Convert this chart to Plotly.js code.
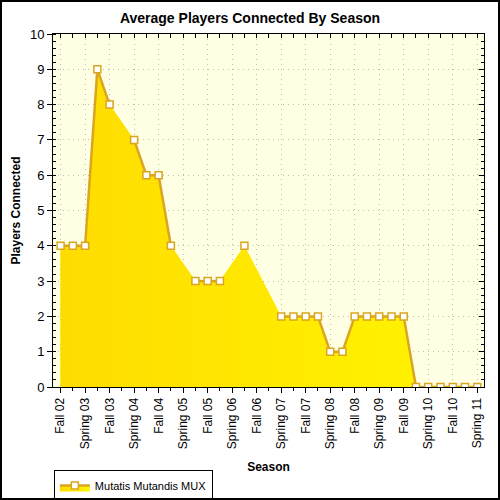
<!DOCTYPE html>
<html>
<head>
<meta charset="utf-8">
<script src="https://cdn.plot.ly/plotly-3.0.1.min.js"></script>
<style>
  html, body { margin: 0; padding: 0; background: #ffffff; }
  #chart { width: 500px; height: 500px; box-sizing: border-box; border: 2px solid #000; }
</style>
</head>
<body>
<div id="chart"></div>
<script>
// Season labels shown on the x axis (every other quarterly step)
const tickLabels = ["Fall 02","Spring 03","Fall 03","Spring 04","Fall 04","Spring 05","Fall 05","Spring 06","Fall 06","Spring 07","Fall 07","Spring 08","Fall 08","Spring 09","Fall 09","Spring 10","Fall 10","Spring 11"];
// Average players per quarterly step (null = no data for that step)
const players = [4,4,4,9,8,null,7,6,6,4,null,3,3,3,null,4,null,null,2,2,2,2,1,1,2,2,2,2,2,0,0,0,0,0,0];
const seriesName = "Mutatis Mutandis MUX";

const steps = players.map((_, i) => i);
const areaX = steps.filter(i => players[i] !== null);
const areaY = areaX.map(i => players[i]);
const tickVals = tickLabels.map((_, i) => i * 2);
const minorVals = steps.filter(i => i % 2 === 1);

const grad = {
  type: 'horizontal',
  start: 0,
  stop: steps.length - 1,
  colorscale: [[0, '#FFDC00'], [1, '#FFF500']]
};
const lineColor = '#DAA520';
const FONT = 'Liberation Sans, Arial, sans-serif';

const traces = [
  {
    x: areaX, y: areaY, type: 'scatter', mode: 'lines',
    line: { width: 0, color: lineColor },
    fill: 'tozeroy', fillgradient: grad,
    showlegend: false, hoverinfo: 'skip'
  },
  {
    x: steps, y: players, type: 'scatter', mode: 'lines+markers',
    name: seriesName, connectgaps: false,
    line: { width: 2.5, color: lineColor },
    marker: { symbol: 'square', size: 7, color: '#ffffff', line: { color: lineColor, width: 1.5 } },
    fill: 'tozeroy', fillgradient: grad,
    hoverinfo: 'skip'
  },
  {
    x: steps, y: players, type: 'scatter', mode: 'none',
    xaxis: 'x2', yaxis: 'y2', showlegend: false, hoverinfo: 'skip'
  }
];

const xRange = [-0.62, 34.55];
const gridStyle = { showgrid: true, gridcolor: '#bdbdbd', griddash: '1px,4px', gridwidth: 1 };

const layout = {
  width: 496, height: 496,
  margin: { l: 51, r: 14, t: 32, b: 111, autoexpand: false },
  paper_bgcolor: '#ffffff',
  plot_bgcolor: '#FFFFE4',
  font: { family: FONT, color: '#000000', size: 12 },
  title: {
    text: '<b>Average Players Connected By Season</b>',
    font: { family: FONT, size: 14, color: '#000000' },
    x: 0.5, xanchor: 'center', y: 0.967, yanchor: 'middle'
  },
  xaxis: Object.assign({
    automargin: false,
    range: xRange, tickmode: 'array', tickvals: tickVals, ticktext: tickLabels,
    tickangle: -90, ticks: 'outside', ticklen: 5, tickcolor: '#000', tickwidth: 1,
    tickfont: { family: FONT, size: 12, color: '#000' },
    showline: true, linecolor: '#000', linewidth: 1, mirror: true, zeroline: false,
    minor: { tickvals: minorVals, ticks: 'outside', ticklen: 3, tickcolor: '#000', showgrid: false },
    title: { text: '<b>Season</b>', font: { family: FONT, size: 12, color: '#000' }, standoff: 14 }
  }, gridStyle),
  yaxis: Object.assign({
    automargin: false,
    range: [0, 10], dtick: 1, tick0: 0, ticks: 'outside', ticklen: 5, tickcolor: '#000',
    tickfont: { family: FONT, size: 13, color: '#000' },
    showline: true, linecolor: '#000', linewidth: 1, mirror: true, zeroline: false,
    minor: { dtick: 0.2, ticks: 'inside', ticklen: 3, tickcolor: '#000', showgrid: false },
    title: { text: '<b>Players Connected</b>', font: { family: FONT, size: 12, color: '#000' }, standoff: 6 }
  }, gridStyle),
  xaxis2: {
    automargin: false,
    overlaying: 'x', side: 'top', anchor: 'y2', range: xRange,
    tickmode: 'array', tickvals: steps, ticks: 'inside', ticklen: 4, tickcolor: '#000',
    showticklabels: false, showgrid: false, zeroline: false, showline: false
  },
  yaxis2: {
    automargin: false,
    overlaying: 'y', side: 'right', anchor: 'x2', range: [0, 10], dtick: 1,
    ticks: 'inside', ticklen: 5, tickcolor: '#000',
    minor: { dtick: 0.2, ticks: 'inside', ticklen: 3, tickcolor: '#000', showgrid: false },
    showticklabels: false, showgrid: false, zeroline: false, showline: false
  },
  showlegend: true,
  legend: {
    orientation: 'h', x: 0.002, xanchor: 'left', y: -0.235, yanchor: 'top',
    bgcolor: '#ffffff', bordercolor: '#000', borderwidth: 1,
    font: { family: FONT, size: 11, color: '#000' },
    itemwidth: 30
  }
};

Plotly.newPlot('chart', traces, layout, { staticPlot: true, displayModeBar: false });
</script>
</body>
</html>
